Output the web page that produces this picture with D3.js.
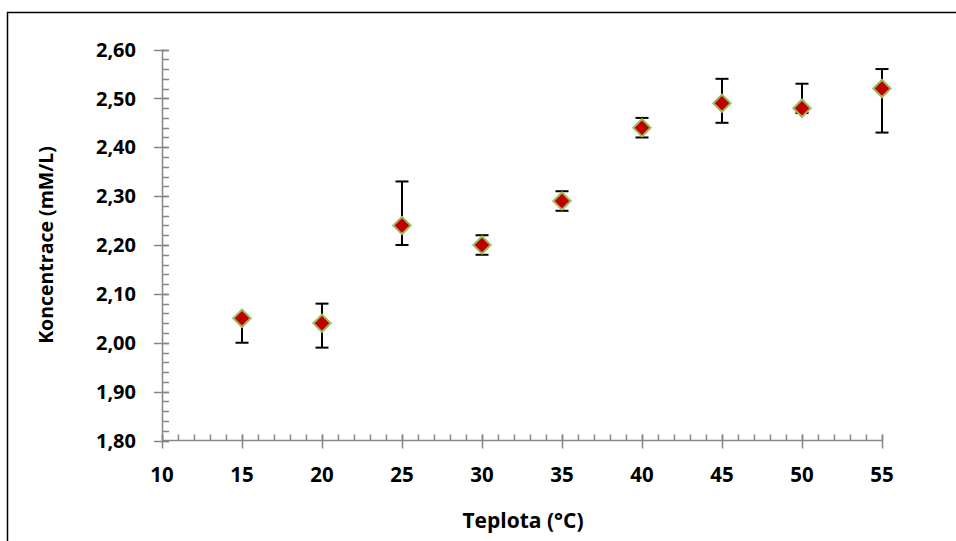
<!DOCTYPE html>
<html>
<head>
<meta charset="utf-8">
<script src="https://cdn.jsdelivr.net/npm/d3@7"></script>
<style>
  html, body { margin: 0; padding: 0; background: #fff; }
  svg { display: block; }
  text { font-family: "Open Sans", Lato, "Liberation Sans", sans-serif; font-weight: bold; fill: #000; }
</style>
</head>
<body>
<svg id="chart" width="956" height="541"></svg>
<script>
// Temperature (°C) and measured concentration (mM/L) with error bar limits
const temperatures = [15, 20, 25, 30, 35, 40, 45, 50, 55];
const concentrations = [2.05, 2.04, 2.24, 2.20, 2.29, 2.44, 2.49, 2.48, 2.52];
const errLow = [2.00, 1.99, 2.20, 2.18, 2.27, 2.42, 2.45, 2.47, 2.43];
const errHigh = [2.05, 2.08, 2.33, 2.22, 2.31, 2.46, 2.54, 2.53, 2.56];
const yTicks = [1.80, 1.90, 2.00, 2.10, 2.20, 2.30, 2.40, 2.50, 2.60];
const xTicks = [10, 15, 20, 25, 30, 35, 40, 45, 50, 55];

const svg = d3.select("#chart");
const axisColor = "#868686";

// outer chart-area frame
svg.append("rect")
  .attr("x", 7.5).attr("y", 12.5)
  .attr("width", 1000).attr("height", 540)
  .attr("fill", "none").attr("stroke", "#000").attr("stroke-width", 1.5);

const x = d3.scaleLinear().domain([10, 55]).range([162, 882]);
const y = d3.scaleLinear().domain([1.80, 2.60]).range([440.5, 49.5]);

const fmt = d => d.toFixed(2).replace(".", ",");

// minor ticks (inside the plot)
const yMinor = d3.range(1.80, 2.6001, 0.02);
svg.append("g").selectAll("line").data(yMinor).join("line")
  .attr("x1", x(10)).attr("x2", x(10) + 7)
  .attr("y1", d => Math.round(y(d)) + 0.5).attr("y2", d => Math.round(y(d)) + 0.5)
  .attr("stroke", axisColor).attr("stroke-width", 1.5);

const xMinor = d3.range(10, 55.001, 1);
svg.append("g").selectAll("line").data(xMinor).join("line")
  .attr("x1", d => Math.round(x(d)) + 0.5).attr("x2", d => Math.round(x(d)) + 0.5)
  .attr("y1", y(1.80)).attr("y2", y(1.80) - 6)
  .attr("stroke", axisColor).attr("stroke-width", 1.5);

// major ticks (crossing the axis)
svg.append("g").selectAll("line").data(yTicks).join("line")
  .attr("x1", x(10) - 8).attr("x2", x(10) + 7)
  .attr("y1", d => Math.round(y(d)) + 0.5).attr("y2", d => Math.round(y(d)) + 0.5)
  .attr("stroke", axisColor).attr("stroke-width", 1.5);

svg.append("g").selectAll("line").data(xTicks).join("line")
  .attr("x1", d => Math.round(x(d)) + 0.5).attr("x2", d => Math.round(x(d)) + 0.5)
  .attr("y1", y(1.80) - 6).attr("y2", y(1.80) + 8)
  .attr("stroke", axisColor).attr("stroke-width", 1.5);

// axis lines
svg.append("line")
  .attr("x1", x(10) + 0.5).attr("x2", x(10) + 0.5)
  .attr("y1", y(2.60)).attr("y2", y(1.80))
  .attr("stroke", axisColor).attr("stroke-width", 1.5);
svg.append("line")
  .attr("x1", x(10)).attr("x2", x(55) + 0.5)
  .attr("y1", y(1.80)).attr("y2", y(1.80))
  .attr("stroke", axisColor).attr("stroke-width", 1.5);

// tick labels
svg.append("g").selectAll("text").data(yTicks).join("text")
  .attr("x", 136).attr("y", d => y(d))
  .attr("dy", "0.36em").attr("text-anchor", "end")
  .attr("font-size", 20).text(fmt);

svg.append("g").selectAll("text").data(xTicks).join("text")
  .attr("x", d => x(d)).attr("y", 482)
  .attr("text-anchor", "middle")
  .attr("font-size", 20.5).text(d => d);

// axis titles
svg.append("text")
  .attr("x", 523).attr("y", 528)
  .attr("text-anchor", "middle").attr("font-size", 21)
  .text("Teplota (°C)");
svg.append("text")
  .attr("transform", `translate(53, 245) rotate(-90)`)
  .attr("text-anchor", "middle").attr("font-size", 19.5)
  .text("Koncentrace (mM/L)");

// error bars
const pts = temperatures.map((t, i) => ({ t, c: concentrations[i], lo: errLow[i], hi: errHigh[i] }));
const eb = svg.append("g").attr("stroke", "#000").attr("stroke-width", 2);
eb.selectAll("line.v").data(pts).join("line")
  .attr("x1", d => x(d.t)).attr("x2", d => x(d.t))
  .attr("y1", d => y(d.lo)).attr("y2", d => y(d.hi));
eb.selectAll("line.lo").data(pts).join("line")
  .attr("x1", d => x(d.t) - 6.5).attr("x2", d => x(d.t) + 6.5)
  .attr("y1", d => y(d.lo)).attr("y2", d => y(d.lo));
eb.selectAll("line.hi").data(pts).join("line")
  .attr("x1", d => x(d.t) - 6.5).attr("x2", d => x(d.t) + 6.5)
  .attr("y1", d => y(d.hi)).attr("y2", d => y(d.hi));

// diamond markers
const diamond = d3.symbol().type(d3.symbolSquare).size(150);
svg.append("g").selectAll("path").data(pts).join("path")
  .attr("d", diamond)
  .attr("transform", d => `translate(${x(d.t)}, ${y(d.c)}) rotate(45)`)
  .attr("fill", "#c00000").attr("stroke", "#9bbb59").attr("stroke-width", 2);
</script>
</body>
</html>
